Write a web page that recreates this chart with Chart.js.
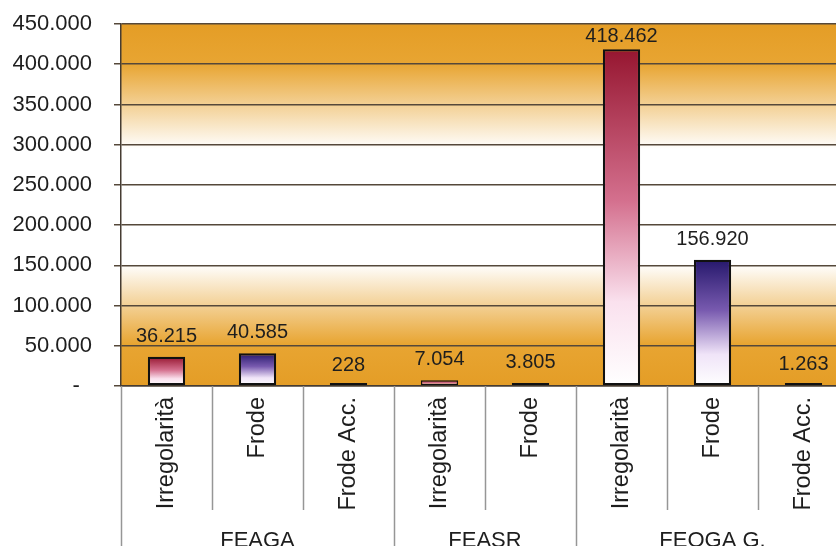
<!DOCTYPE html>
<html>
<head>
<meta charset="utf-8">
<script src="https://cdn.jsdelivr.net/npm/chart.js@4/dist/chart.umd.min.js"></script>
<style>
  html, body { margin: 0; padding: 0; background: #fff; overflow: hidden; }
  #wrap { width: 836px; height: 546px; overflow: hidden; }
  canvas { display: block; }
</style>
</head>
<body>
<div id="wrap"><canvas id="c" width="852" height="546"></canvas></div>
<script>
// Categories (one bar each), the fund each belongs to, and the amounts
const categories = ['Irregolarità', 'Frode', 'Frode Acc.', 'Irregolarità', 'Frode', 'Irregolarità', 'Frode', 'Frode Acc.'];
const groups = ['FEAGA', 'FEAGA', 'FEAGA', 'FEASR', 'FEASR', 'FEOGA G.', 'FEOGA G.', 'FEOGA G.'];
const amounts = [36215, 40585, 228, 7054, 3805, 418462, 156920, 1263];
const yTicks = [0, 50000, 100000, 150000, 200000, 250000, 300000, 350000, 400000, 450000];

const FONT = '"Liberation Sans", Arial, sans-serif';
const ORANGE = 'rgb(228,157,38)';

function fmt(v) {
  return String(Math.round(v)).replace(/\B(?=(\d{3})+(?!\d))/g, '.');
}

function barHeight(chart, v) {
  const y = chart.scales.y;
  return y.getPixelForValue(0) - y.getPixelForValue(v);
}

// vertical colour ramp for each bar, running from its top down to the baseline
function barFill(ctx) {
  const chart = ctx.chart;
  const y = chart.scales.y;
  if (!chart.chartArea || !y) return '#fff';
  const i = ctx.dataIndex;
  const v = amounts[i];
  const top = y.getPixelForValue(v);
  const bottom = y.getPixelForValue(0);
  if (bottom - top < 4) return '#111';
  const g = chart.ctx.createLinearGradient(0, top, 0, bottom);
  const cat = categories[i];
  if (cat === 'Irregolarità') {
    g.addColorStop(0, 'rgb(150,22,48)');
    g.addColorStop(0.45, 'rgb(212,112,142)');
    g.addColorStop(0.75, 'rgb(250,225,238)');
    g.addColorStop(1, '#ffffff');
  } else if (cat === 'Frode') {
    g.addColorStop(0, 'rgb(38,24,108)');
    g.addColorStop(0.4, 'rgb(120,90,175)');
    g.addColorStop(0.75, 'rgb(240,228,248)');
    g.addColorStop(1, '#ffffff');
  } else {
    g.addColorStop(0, '#111');
    g.addColorStop(1, '#111');
  }
  return g;
}

// orange / white / orange backdrop behind the plot
const plotBackdrop = {
  id: 'plotBackdrop',
  beforeDraw(chart) {
    const { ctx, chartArea: a } = chart;
    const h = a.bottom - a.top;
    const g = ctx.createLinearGradient(0, a.top, 0, a.bottom);
    g.addColorStop(0, ORANGE);
    g.addColorStop(40 / 362, 'rgb(232,165,50)');
    g.addColorStop(125 / 362, '#ffffff');
    g.addColorStop(240 / 362, '#ffffff');
    g.addColorStop(320 / 362, 'rgb(232,165,50)');
    g.addColorStop(1, ORANGE);
    ctx.save();
    ctx.fillStyle = g;
    ctx.fillRect(a.left, a.top, a.right - a.left, h);
    ctx.restore();
  }
};

// value labels above bars, plus category separators and fund names below the axis
const annotate = {
  id: 'annotate',
  afterDatasetsDraw(chart) {
    const { ctx, chartArea: a } = chart;
    const x = chart.scales.x, y = chart.scales.y;
    ctx.save();
    ctx.fillStyle = '#1e1e1e';
    ctx.font = '20px ' + FONT;
    ctx.textAlign = 'center';
    ctx.textBaseline = 'alphabetic';
    amounts.forEach((v, i) => {
      const px = x.getPixelForValue(i);
      const base = Math.max(y.getPixelForValue(v) - 15, a.top + 18);
      ctx.fillText(fmt(v), px, base);
    });

    // separators between categories; longer where the fund changes
    const half = (x.getPixelForValue(1) - x.getPixelForValue(0)) / 2;
    ctx.strokeStyle = 'rgb(150,150,150)';
    ctx.lineWidth = 1.5;
    for (let i = 0; i <= categories.length; i++) {
      const px = Math.round(x.getPixelForValue(i) - half) + 0.5;
      const edge = i === 0 || i === categories.length || groups[i] !== groups[i - 1];
      ctx.beginPath();
      ctx.moveTo(px, a.bottom);
      ctx.lineTo(px, edge ? chart.height : a.bottom + 124);
      ctx.stroke();
    }

    // fund names centred under their categories
    ctx.fillStyle = '#1e1e1e';
    ctx.font = '22px ' + FONT;
    const seen = [...new Set(groups)];
    seen.forEach(gname => {
      const idx = groups.map((g, i) => g === gname ? i : -1).filter(i => i >= 0);
      const cx = (x.getPixelForValue(idx[0]) + x.getPixelForValue(idx[idx.length - 1])) / 2;
      ctx.fillText(gname, cx, 546.5);
    });
    ctx.restore();
  }
};

new Chart(document.getElementById('c'), {
  type: 'bar',
  data: {
    labels: categories,
    datasets: [{
      data: amounts,
      backgroundColor: barFill,
      borderColor: '#111',
      borderWidth: ctx => barHeight(ctx.chart, amounts[ctx.dataIndex]) < 10 ? 1.5 : 2.2,
      borderSkipped: false,
      minBarLength: 3,
      barPercentage: 0.41,
      categoryPercentage: 1
    }]
  },
  options: {
    responsive: false,
    animation: false,
    layout: { padding: { top: 24, right: 3, left: 0, bottom: 0 } },
    plugins: { legend: { display: false }, tooltip: { enabled: false } },
    scales: {
      x: {
        offset: true,
        afterFit(s) { s.height = 160; s.paddingLeft = 0; s.paddingRight = 0; },
        grid: { display: false, drawTicks: false },
        border: { display: true, color: 'rgb(70,60,50)', width: 1.5 },
        ticks: {
          autoSkip: false,
          minRotation: 90,
          maxRotation: 90,
          padding: 11,
          color: '#1e1e1e',
          font: { family: FONT, size: 23.5 }
        }
      },
      y: {
        min: 0,
        max: 450000,
        afterFit(s) { s.width = 121; s.paddingTop = 0; s.paddingBottom = 0; },
        afterBuildTicks(s) { s.ticks = yTicks.map(v => ({ value: v })); },
        grid: {
          color: 'rgb(85,72,58)',
          lineWidth: 1.5,
          drawTicks: true,
          tickLength: 7
        },
        border: { display: true, color: 'rgb(70,60,50)', width: 1.5 },
        ticks: {
          padding: 22,
          color: '#1e1e1e',
          font: { family: FONT, size: 22 },
          callback: v => v === 0 ? '-\u2007' : fmt(v)
        }
      }
    }
  },
  plugins: [plotBackdrop, annotate]
});
</script>
</body>
</html>
